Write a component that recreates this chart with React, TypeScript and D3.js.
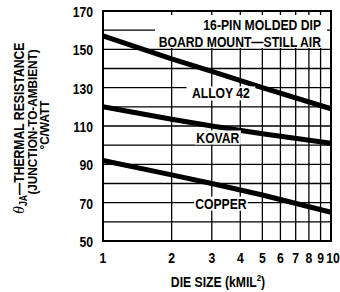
import React from 'react';
import * as d3 from 'd3';

const dieSizes = [1, 2, 3, 5, 10];
const alloy42 = [157, 145, 138.5, 130, 119];
const kovar = [120, 113.5, 110, 106, 101];
const copper = [92, 84.5, 80, 74, 65];
const seriesNames = ['ALLOY 42', 'KOVAR', 'COPPER'];
const labelAt: [number, number][] = [[3.29, 127], [3.19, 104], [3.29, 69.5]];
const yTicks = [50, 70, 90, 110, 130, 150, 170];
const yGrid = d3.range(50, 171, 10);
const xTicks = [1, 2, 3, 4, 5, 6, 7, 8, 9, 10];

const FONT = '"Liberation Sans", Arial, Helvetica, sans-serif';
const SX = 0.87; // condensed look

// condensed bold text
const CT: React.FC<{ x: number; y: number; anchor?: string; size?: number; rot?: number; children: React.ReactNode }> =
  ({ x, y, anchor = 'start', size = 14, rot = 0, children }) => (
    <g transform={`translate(${x},${y}) rotate(${rot}) scale(${SX},1)`}>
      <text textAnchor={anchor} fontSize={size}>{children}</text>
    </g>
  );

const App: React.FC = () => {
  const margin = { top: 11, right: 9, bottom: 51, left: 103 };
  const W = 340;
  const H = 292;

  const x = d3.scaleLog().domain([1, 10]).range([margin.left, W - margin.right]);
  const y = d3.scaleLinear().domain([50, 170]).range([H - margin.bottom, margin.top]);

  const line = d3.line<[number, number]>()
    .x(d => x(d[0]))
    .y(d => y(d[1]));

  const series = [alloy42, kovar, copper];

  return (
    <svg width={W} height={H} style={{ position: 'absolute', left: 0, top: 0, background: '#fff' }}
      fontFamily={FONT} fontWeight="bold">
      {/* grid */}
      {yGrid.map(v => (
        <line key={'h' + v} x1={x(1)} x2={x(10)} y1={y(v)} y2={y(v)} stroke="#000" strokeWidth={1.3} />
      ))}
      {xTicks.map(v => (
        <line key={'v' + v} x1={x(v)} x2={x(v)} y1={y(50)} y2={y(170)} stroke="#000" strokeWidth={1.3} />
      ))}

      {/* note box */}
      <rect x={155} y={15} width={172} height={33} fill="#fff" />
      <CT x={321} y={30} anchor="end">16-PIN MOLDED DIP</CT>
      <CT x={321} y={47} anchor="end">BOARD MOUNT—STILL AIR</CT>

      {/* curves */}
      {series.map((vals, k) => (
        <path key={k} d={line(dieSizes.map((d, i) => [d, vals[i]] as [number, number])) || ''}
          fill="none" stroke="#000" strokeWidth={5} />
      ))}

      {/* curve labels */}
      {seriesNames.map((name, k) => {
        const cx = x(labelAt[k][0]);
        const cy = y(labelAt[k][1]);
        const w = name.length * 7.6 + 8;
        return (
          <g key={'l' + name}>
            <rect x={cx - w / 2} y={cy - 7} width={w} height={14} fill="#fff" />
            <CT x={cx} y={cy + 5} anchor="middle">{name}</CT>
          </g>
        );
      })}

      {/* frame */}
      <rect x={x(1)} y={y(170)} width={x(10) - x(1)} height={y(50) - y(170)} fill="none" stroke="#000" strokeWidth={2} />

      {/* y ticks */}
      {yTicks.map(v => (
        <CT key={'yt' + v} x={93} y={y(v) + 6} anchor="end">{v}</CT>
      ))}
      {/* x ticks */}
      {xTicks.map(v => (
        <CT key={'xt' + v} x={x(v) + (v === 10 ? 2 : 0)} y={263} anchor="middle">{v}</CT>
      ))}

      <CT x={218} y={287} anchor="middle">
        DIE SIZE (kMIL<tspan fontSize={9} dy={-6}>2</tspan><tspan dy={6}>)</tspan>
      </CT>

      {/* y axis title */}
      <CT x={23.5} y={128} rot={-90} anchor="middle">
        <tspan fontStyle="italic" fontWeight="normal" fontFamily="'DejaVu Serif', serif">θ</tspan>
        <tspan fontSize={10} dy={3}>JA</tspan>
        <tspan dy={-3}>—THERMAL RESISTANCE</tspan>
      </CT>
      <CT x={37} y={122} rot={-90} anchor="middle" size={13.5}>(JUNCTION-TO-AMBIENT)</CT>
      <CT x={49} y={125} rot={-90} anchor="middle" size={13.5}>°C/WATT</CT>
    </svg>
  );
};

export default App;
